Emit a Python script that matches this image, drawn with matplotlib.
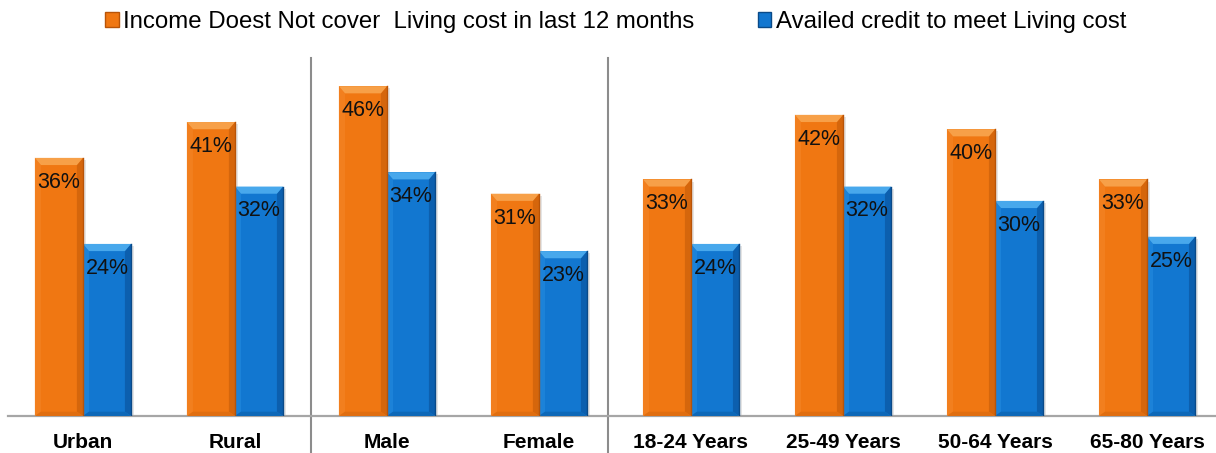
import matplotlib
matplotlib.use("Agg")
import matplotlib.pyplot as plt
from matplotlib.patches import Polygon, Patch
from matplotlib.transforms import blended_transform_factory
import numpy as np

plt.rcParams["font.family"] = ["Liberation Sans", "DejaVu Sans"]

categories = ["Urban", "Rural", "Male", "Female",
              "18-24 Years", "25-49 Years", "50-64 Years", "65-80 Years"]
income_not_cover = [36, 41, 46, 31, 33, 42, 40, 33]
availed_credit = [24, 32, 34, 23, 24, 32, 30, 25]
series_names = ["Income Doest Not cover  Living cost in last 12 months",
                "Availed credit to meet Living cost"]
group_breaks = [1.5, 3.455]

# colour sets: face, top bevel, left bevel, right bevel, bottom bevel
ORANGE = dict(face="#F07712", top="#F7A048", left="#F27F1E",
              right="#D5660C", bottom="#E06E10", edge="#B85408")
BLUE = dict(face="#1277D0", top="#48A8EC", left="#1C82D8",
            right="#0C5FAE", bottom="#0D68B8", edge="#0A4A88")

fig = plt.figure(figsize=(12.16, 4.53), dpi=100)
ax = fig.add_axes([8 / 1216, 37 / 453, 1208 / 1216, 358.5 / 453])

x = np.arange(len(categories))
w = 0.316


def bevel_bars(bars, c):
    # add bevelled edges on top of the plain bars
    for b in bars:
        x0, w0, h = b.get_x(), b.get_width(), b.get_height()
        dx, dy = 0.04, 1.0
        # soft shadow to the right
        ax.add_patch(Polygon([(x0 + w0, 0.15), (x0 + w0 + 0.02, 0.15),
                              (x0 + w0 + 0.02, h - 0.3), (x0 + w0, h - 0.3)],
                             closed=True, fc="#000000", alpha=0.10, lw=0, zorder=2))
        ax.add_patch(Polygon([(x0, 0), (x0, h), (x0 + dx, h - dy), (x0 + dx, dy * 0.6)],
                             closed=True, fc=c["left"], lw=0, zorder=3))
        ax.add_patch(Polygon([(x0 + w0, 0), (x0 + w0, h), (x0 + w0 - dx, h - dy),
                              (x0 + w0 - dx, dy * 0.6)],
                             closed=True, fc=c["right"], lw=0, zorder=3))
        ax.add_patch(Polygon([(x0, 0), (x0 + w0, 0), (x0 + w0 - dx, dy * 0.6),
                              (x0 + dx, dy * 0.6)],
                             closed=True, fc=c["bottom"], lw=0, zorder=3))
        ax.add_patch(Polygon([(x0, h), (x0 + w0, h), (x0 + w0 - dx, h - dy),
                              (x0 + dx, h - dy)],
                             closed=True, fc=c["top"], lw=0, zorder=3))
        ax.plot([x0 + w0, x0 + w0], [0, h], color=c["edge"], lw=1.0, zorder=4)


b1 = ax.bar(x - w / 2, income_not_cover, width=w, color=ORANGE["face"], lw=0, zorder=2)
b2 = ax.bar(x + w / 2, availed_credit, width=w, color=BLUE["face"], lw=0, zorder=2)
bevel_bars(b1, ORANGE)
bevel_bars(b2, BLUE)

for bars, vals in ((b1, income_not_cover), (b2, availed_credit)):
    for b, v in zip(bars, vals):
        ax.text(b.get_x() + b.get_width() / 2, v - 3.4, f"{v}%",
                ha="center", va="center", fontsize=15.5, color="#111111", zorder=5)

ax.set_xlim(-0.493, 7.454)
ax.set_ylim(0, 50)
ax.set_xticks(x)
ax.set_xticklabels(categories, fontsize=15, fontweight="bold")
ax.tick_params(axis="x", length=0, pad=12)
ax.set_yticks([])
for s in ("top", "right", "left"):
    ax.spines[s].set_visible(False)
ax.spines["bottom"].set_color("#A6A6A6")
ax.spines["bottom"].set_linewidth(1.6)

# vertical separators between category groups
trans = blended_transform_factory(ax.transData, ax.transAxes)
for gx in group_breaks:
    ax.plot([gx, gx], [1.0, -0.11], transform=trans, color="#8C8C8C",
            lw=1.5, clip_on=False, zorder=1)

handles = [Patch(facecolor=ORANGE["face"], edgecolor=ORANGE["edge"], lw=1),
           Patch(facecolor=BLUE["face"], edgecolor=BLUE["edge"], lw=1)]
fig.legend(handles, series_names, loc="center", bbox_to_anchor=(616 / 1216, 1 - 22 / 453),
           ncol=2, frameon=False, fontsize=17.3, handlelength=0.55, handleheight=0.55,
           handletextpad=0.2, columnspacing=2.65, borderpad=0)

fig.savefig("out.png", dpi=100)
